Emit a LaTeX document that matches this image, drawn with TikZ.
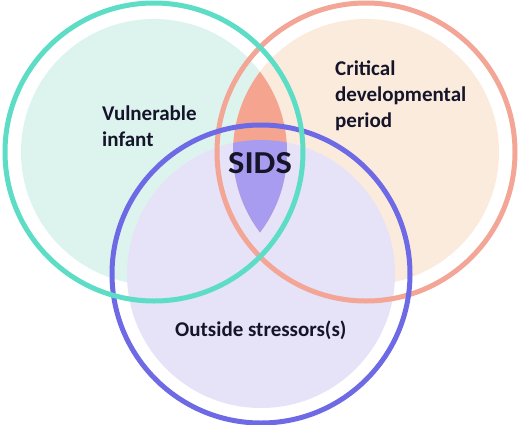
\documentclass[tikz,border=0pt]{standalone}
\usepackage{fontspec}
\setmainfont{Carlito}
\usetikzlibrary{positioning}

\definecolor{tealring}{HTML}{5EDDC6}
\definecolor{tealfill}{HTML}{DDF3EE}
\definecolor{salmonring}{HTML}{F3A596}
\definecolor{salmonfill}{HTML}{FBEBDD}
\definecolor{salmonlens}{HTML}{F5A48F}
\definecolor{bluering}{HTML}{6E6AE6}
\definecolor{bluefill}{HTML}{E6E2F8}
\definecolor{bluelens}{HTML}{A79CEF}
\definecolor{inktext}{HTML}{15152A}

\begin{document}
\begin{tikzpicture}[
	x=1pt, y=-1pt,
	ring/.style={line width=5pt},
	label/.style={inner sep=0pt, anchor=north west, align=left, text=inktext,
		font=\fontsize{21}{26}\selectfont\bfseries}]
	\useasboundingbox[fill=white] (0,0) rectangle (520,424);
	\coordinate (infant) at (154,152);
	\coordinate (period) at (366,152);
	\coordinate (stress) at (261,274);
	% inner discs
	\fill[tealfill] (infant) circle (133pt);
	\fill[salmonfill] (period) circle (133pt);
	\fill[bluefill] (stress) circle (134pt);
	\begin{scope}
		\clip (infant) circle (133pt);
		\fill[salmonlens] (period) circle (133pt);
		\clip (period) circle (133pt);
		\fill[bluelens] (stress) circle (134pt);
	\end{scope}
	% rings
	\draw[ring, salmonring] (period) circle (149pt);
	\draw[ring, bluering] (stress) circle (149pt);
	\draw[ring, tealring] (infant) circle (149pt);
	% labels
	\node[label] (vuln) at (102,106) {Vulnerable\\infant};
	\node[label] (critical) at (335,61) {Critical\\developmental\\period};
	\node[label] (outside) at (175,321) {Outside stressors(s)};
	\node[font=\fontsize{32}{32}\selectfont\bfseries, text=inktext, inner sep=0pt] (sids) at (260,163) {\scalebox{1.08}[1]{SIDS}};
\end{tikzpicture}
\end{document}
